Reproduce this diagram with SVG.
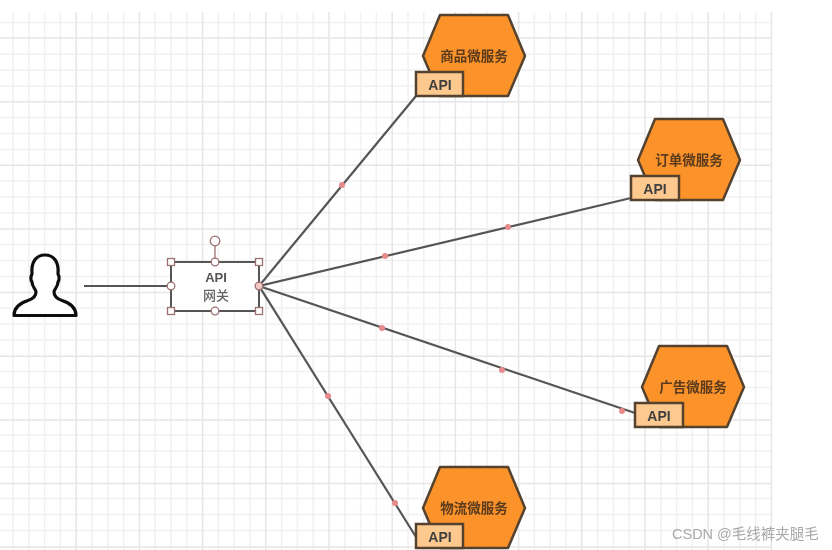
<svg xmlns="http://www.w3.org/2000/svg" width="832" height="550" viewBox="0 0 832 550">
<style>
.hex{fill:#fc932b;stroke:#54422f;stroke-width:2.5;stroke-linejoin:round}
.api{fill:#fdc98f;stroke:#54422f;stroke-width:2.5}
.svc{font:700 13.500px "Noto Sans CJK SC","Liberation Sans",sans-serif;fill:#5a3a1e;text-anchor:middle}
.apit{font:700 14px "Liberation Sans","Noto Sans CJK SC",sans-serif;fill:#3f3f3f;text-anchor:middle}
.gw{font:700 13px "Liberation Sans","Noto Sans CJK SC",sans-serif;fill:#555;text-anchor:middle}
.gw2{font:500 13px "Noto Sans CJK SC","Liberation Sans",sans-serif;fill:#666;text-anchor:middle}
.conn{stroke:#555;stroke-width:2.2;fill:none}
.dot{fill:#e88a8a}
.h{fill:#fff;stroke:#9c6f70;stroke-width:1.3}
.minor{stroke:#f1f1f1;stroke-width:1.5;fill:none}
.major{stroke:#e6e6e6;stroke-width:1.5;fill:none}
</style>
<defs>
<filter id="soft" filterUnits="userSpaceOnUse" x="0" y="0" width="832" height="550"><feGaussianBlur stdDeviation="0.6"/></filter>
<filter id="soft2" filterUnits="userSpaceOnUse" x="0" y="0" width="832" height="550"><feGaussianBlur stdDeviation="0.5"/></filter>
<polygon id="hexa" class="hex" points="17,0 85,0 102,41 85,81 17,81 0,41"/>
</defs>
<rect width="832" height="550" fill="#fff"/>
<g id="grid" filter="url(#soft)">
<path class="minor" d="M13 12V550M28.800 12V550M44.600 12V550M60.400 12V550M92 12V550M107.800 12V550M123.600 12V550M155.200 12V550M171 12V550M186.800 12V550M218.400 12V550M234.200 12V550M250 12V550M281.600 12V550M297.400 12V550M313.200 12V550M344.800 12V550M360.600 12V550M376.400 12V550M408 12V550M423.800 12V550M439.600 12V550M471.200 12V550M487 12V550M502.800 12V550M534.400 12V550M550.200 12V550M566 12V550M597.600 12V550M613.400 12V550M629.200 12V550M660.800 12V550M676.600 12V550M692.400 12V550M724 12V550M739.800 12V550M755.600 12V550M0 22.500H772M0 54H772M0 70H772M0 86H772M0 117.500H772M0 133.500H772M0 149.500H772M0 181H772M0 197H772M0 213H772M0 244.500H772M0 260.500H772M0 276.500H772M0 308H772M0 324H772M0 340H772M0 371.500H772M0 387.500H772M0 403.500H772M0 435H772M0 451H772M0 467H772M0 498.500H772M0 514.500H772M0 530.500H772"/>
<path class="major" d="M76.200 12V550M139.400 12V550M202.600 12V550M265.800 12V550M329 12V550M392.200 12V550M455.400 12V550M518.600 12V550M581.800 12V550M645 12V550M708.200 12V550M771.400 12V550M0 38H772M0 101.700H772M0 165.300H772M0 229H772M0 292.600H772M0 356.200H772M0 419.900H772M0 483.500H772M0 547H772"/>
</g>
<g filter="url(#soft2)">
<g id="connectors">
<path class="conn" d="M84 286H171"/>
<path class="conn" d="M259 286L416 96"/>
<path class="conn" d="M259 286L631 198"/>
<path class="conn" d="M259 286L635 413"/>
<path class="conn" d="M259 286L416 537"/>
<circle class="dot" cx="342" cy="185" r="3"/>
<circle class="dot" cx="385" cy="256" r="3"/>
<circle class="dot" cx="508" cy="227" r="3"/>
<circle class="dot" cx="382" cy="328" r="3"/>
<circle class="dot" cx="502" cy="370" r="3"/>
<circle class="dot" cx="622" cy="411" r="3"/>
<circle class="dot" cx="328" cy="396" r="3"/>
<circle class="dot" cx="395" cy="503" r="3"/>
</g>
<g id="user">
<path d="M14 315.500C14 308 20 303 28 300.500C34 298.500 36 296 36 292C36 289 32 287 32 282C30 279 31 276 32 274C31 262 36 255 45 255C54 255 59 262 58 274C59 276 60 279 58 282C58 287 54 289 54 292C54 296 56 298.500 62 300.500C70 303 76 308 76 315.500Z" fill="#fff" stroke="#111" stroke-width="3.200" stroke-linejoin="round"/>
</g>
<g id="gateway">
<rect x="171" y="262" width="88" height="49" fill="#fff" stroke="#555" stroke-width="2"/>
<path d="M215 245V262" stroke="#9c6f70" stroke-width="1.3"/>
<circle class="h" cx="215" cy="241" r="4.800"/>
<circle class="h" cx="215" cy="262" r="3.800"/>
<circle class="h" cx="215" cy="311" r="3.800"/>
<circle class="h" cx="171" cy="286" r="3.800"/>
<circle cx="259" cy="286" r="3.800" fill="#f3c9c5" stroke="#9c6f70" stroke-width="1.300"/>
<rect class="h" x="167.500" y="258.500" width="7" height="7"/>
<rect class="h" x="255.500" y="258.500" width="7" height="7"/>
<rect class="h" x="167.500" y="307.500" width="7" height="7"/>
<rect class="h" x="255.500" y="307.500" width="7" height="7"/>
<text class="gw" x="216" y="282">API</text>
<text class="gw2" x="216" y="300">网关</text>
</g>
<g id="svc-goods">
<use href="#hexa" x="423" y="15"/>
<rect class="api" x="416" y="72" width="47" height="24"/>
<text class="svc" x="474" y="61">商品微服务</text>
<text class="apit" x="440" y="90">API</text>
</g>
<g id="svc-order">
<use href="#hexa" x="638" y="119"/>
<rect class="api" x="631" y="176" width="48" height="24"/>
<text class="svc" x="689" y="165">订单微服务</text>
<text class="apit" x="655" y="194">API</text>
</g>
<g id="svc-ads">
<use href="#hexa" x="642" y="346"/>
<rect class="api" x="635" y="403" width="48" height="24"/>
<text class="svc" x="693" y="392">广告微服务</text>
<text class="apit" x="659" y="421">API</text>
</g>
<g id="svc-logistics">
<use href="#hexa" x="423" y="467"/>
<rect class="api" x="416" y="524" width="47" height="24"/>
<text class="svc" x="474" y="513">物流微服务</text>
<text class="apit" x="440" y="542">API</text>
</g>
<text x="672" y="539" font-family="'Liberation Sans','Noto Sans CJK SC',sans-serif" font-size="14.500" fill="#a9a9a9">CSDN @毛线裤夹腿毛</text>
</g>
</svg>
